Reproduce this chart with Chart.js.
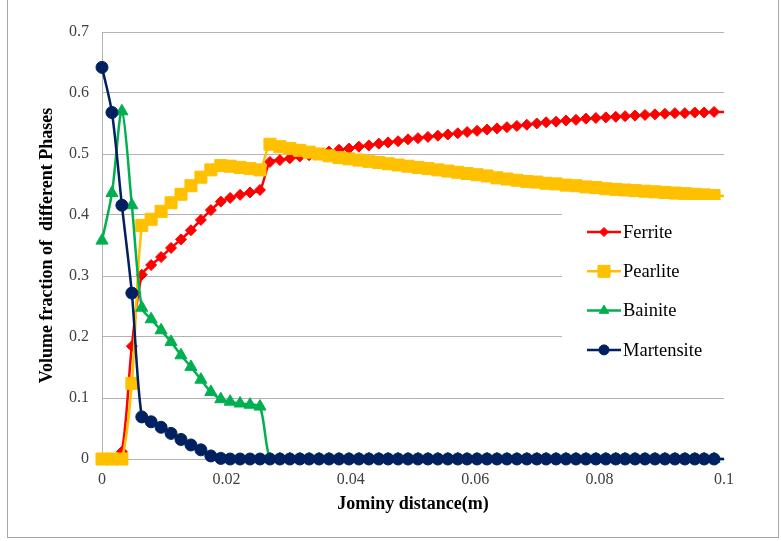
<!DOCTYPE html>
<html>
<head>
<meta charset="utf-8">
<script src="https://cdn.jsdelivr.net/npm/chart.js@4/dist/chart.umd.min.js"></script>
<style>
  body { margin: 0; background: #fff; }
  #wrap { position: relative; width: 781px; height: 541px; }
  #frame { position: absolute; left: 7px; top: -2px; width: 772px; height: 540px; border: 1px solid #a6a6a6; box-sizing: border-box; pointer-events: none; }
</style>
</head>
<body>
<div id="wrap">
  <canvas id="chart" width="781" height="541"></canvas>
  <div id="frame"></div>
</div>
<script>
// Jominy distance (m), 1/16 inch steps
const distance = [0, 0.0016, 0.0032, 0.0048, 0.0064, 0.0079, 0.0095, 0.0111, 0.0127, 0.0143,
  0.0159, 0.0175, 0.0191, 0.0206, 0.0222, 0.0238, 0.0254, 0.0270, 0.0286, 0.0302,
  0.0318, 0.0333, 0.0349, 0.0365, 0.0381, 0.0397, 0.0413, 0.0429, 0.0445, 0.0460,
  0.0476, 0.0492, 0.0508, 0.0524, 0.0540, 0.0556, 0.0572, 0.0587, 0.0603, 0.0619,
  0.0635, 0.0651, 0.0667, 0.0683, 0.0699, 0.0714, 0.0730, 0.0746, 0.0762, 0.0778,
  0.0794, 0.0810, 0.0826, 0.0841, 0.0857, 0.0873, 0.0889, 0.0905, 0.0921, 0.0937,
  0.0953, 0.0968, 0.0984, 0.1000];

const ferrite = [0, 0, 0.012, 0.185, 0.302, 0.318, 0.331, 0.346, 0.360, 0.375,
  0.392, 0.408, 0.422, 0.428, 0.433, 0.437, 0.441, 0.487, 0.490, 0.493,
  0.496, 0.498, 0.501, 0.504, 0.507, 0.509, 0.512, 0.514, 0.517, 0.519,
  0.521, 0.524, 0.526, 0.528, 0.530, 0.532, 0.534, 0.536, 0.538, 0.540,
  0.542, 0.544, 0.546, 0.548, 0.550, 0.552, 0.553, 0.555, 0.556, 0.558,
  0.559, 0.560, 0.561, 0.562, 0.563, 0.564, 0.565, 0.566, 0.567, 0.567,
  0.568, 0.568, 0.569, 0.569];

const pearlite = [0, 0, 0, 0.124, 0.383, 0.393, 0.406, 0.420, 0.434, 0.448,
  0.462, 0.474, 0.481, 0.480, 0.478, 0.476, 0.474, 0.516, 0.512, 0.509,
  0.506, 0.503, 0.500, 0.497, 0.494, 0.492, 0.490, 0.488, 0.486, 0.484,
  0.482, 0.480, 0.478, 0.476, 0.474, 0.472, 0.470, 0.468, 0.466, 0.464,
  0.461, 0.459, 0.457, 0.455, 0.454, 0.452, 0.451, 0.449, 0.448, 0.446,
  0.445, 0.443, 0.442, 0.441, 0.440, 0.439, 0.438, 0.437, 0.436, 0.435,
  0.434, 0.433, 0.432, 0.431];

const bainite = [0.358, 0.436, 0.570, 0.416, 0.248, 0.229, 0.211, 0.192, 0.170, 0.151,
  0.130, 0.110, 0.098, 0.094, 0.091, 0.089, 0.086, 0, 0, 0,
  0, 0, 0, 0, 0, 0, 0, 0, 0, 0,
  0, 0, 0, 0, 0, 0, 0, 0, 0, 0,
  0, 0, 0, 0, 0, 0, 0, 0, 0, 0,
  0, 0, 0, 0, 0, 0, 0, 0, 0, 0,
  0, 0, 0, 0];

const martensite = [0.642, 0.568, 0.416, 0.272, 0.069, 0.061, 0.052, 0.042, 0.032, 0.023,
  0.015, 0.005, 0.001, 0, 0, 0, 0, 0, 0, 0,
  0, 0, 0, 0, 0, 0, 0, 0, 0, 0,
  0, 0, 0, 0, 0, 0, 0, 0, 0, 0,
  0, 0, 0, 0, 0, 0, 0, 0, 0, 0,
  0, 0, 0, 0, 0, 0, 0, 0, 0, 0,
  0, 0, 0, 0];

const xTicks = [0, 0.02, 0.04, 0.06, 0.08, 0.1];
const yTicks = [0, 0.1, 0.2, 0.3, 0.4, 0.5, 0.6, 0.7];

const serif = '"Liberation Serif", "Times New Roman", serif';
Chart.defaults.font.family = serif;

const lastIndex = distance.length - 1;
const toPoints = values => distance.map((x, i) => ({ x: x, y: values[i] }));
const fmt = v => parseFloat(Number(v).toFixed(2)).toString();

function series(label, values, color, style, radius, legendRadius, order) {
  return {
    label: label,
    data: toPoints(values),
    borderColor: color,
    backgroundColor: color,
    pointStyle: style,
    // the last point sits on the axis edge, Excel did not draw its marker
    pointRadius: c => c.dataIndex === lastIndex ? 0 : radius,
    pointBorderWidth: 1,
    borderWidth: 2.5,
    tension: 0.3,
    clip: false,
    order: order,
    legendRadius: legendRadius
  };
}

function marker(c, style, x, y, r) {
  c.beginPath();
  if (style === 'circle') {
    c.arc(x, y, r, 0, Math.PI * 2);
  } else if (style === 'rect') {
    c.rect(x - r, y - r, 2 * r, 2 * r);
  } else if (style === 'rectRot') {
    c.moveTo(x - r, y); c.lineTo(x, y - r); c.lineTo(x + r, y); c.lineTo(x, y + r);
  } else if (style === 'triangle') {
    c.moveTo(x, y - r); c.lineTo(x + r * 0.87, y + r * 0.5); c.lineTo(x - r * 0.87, y + r * 0.5);
  }
  c.closePath();
  c.fill();
  c.stroke();
}

// legend sits inside the plot area on a white box, like the original
const insideLegend = {
  id: 'insideLegend',
  afterDatasetsDraw(chart) {
    const c = chart.ctx;
    const area = chart.chartArea;
    c.save();
    c.fillStyle = '#fff';
    c.fillRect(562, 200, area.right - 562 + 2, 176);
    chart.data.datasets.forEach((ds, i) => {
      const y = 232 + i * 39.3;
      c.strokeStyle = ds.borderColor;
      c.fillStyle = ds.borderColor;
      c.lineWidth = 2.5;
      c.beginPath();
      c.moveTo(587, y);
      c.lineTo(621, y);
      c.stroke();
      c.lineWidth = 1;
      marker(c, ds.pointStyle, 604, y, ds.legendRadius);
      c.fillStyle = '#000';
      c.font = '18.5px ' + serif;
      c.textBaseline = 'middle';
      c.textAlign = 'left';
      c.fillText(ds.label, 623, y + 1);
    });
    c.restore();
  }
};

const chart = document.querySelector('#chart').getContext('2d');

new Chart(chart, {
  type: 'line',
  data: {
    datasets: [
      series('Ferrite', ferrite, '#FF0000', 'rectRot', 5.5, 4.5, 3),
      series('Pearlite', pearlite, '#FFC000', 'rect', 8.5, 6, 2),
      series('Bainite', bainite, '#00B050', 'triangle', 7, 5.5, 1),
      series('Martensite', martensite, '#002060', 'circle', 6, 5, 0)
    ]
  },
  options: {
    responsive: false,
    animation: false,
    layout: { padding: { left: 10, right: 57, top: 32, bottom: 20 } },
    plugins: {
      legend: { display: false },
      tooltip: { enabled: false }
    },
    scales: {
      x: {
        type: 'linear',
        min: 0,
        max: 0.1,
        afterBuildTicks: s => { s.ticks = xTicks.map(v => ({ value: v })); },
        afterFit: s => { s.height = 62; },
        ticks: { color: '#404040', font: { size: 16 }, padding: 3, callback: fmt },
        grid: { display: false },
        border: { display: true, color: '#b3b3b3', width: 1 },
        title: { display: true, text: 'Jominy distance(m)', color: '#000', font: { size: 18, weight: 'bold' }, padding: { top: 2, bottom: 6 } }
      },
      y: {
        type: 'linear',
        min: 0,
        max: 0.7,
        afterBuildTicks: s => { s.ticks = yTicks.map(v => ({ value: v })); },
        afterFit: s => { s.width = 92; },
        ticks: { color: '#404040', font: { size: 16 }, padding: 13, callback: fmt },
        grid: { color: '#b3b3b3', drawTicks: false },
        border: { display: true, color: '#b3b3b3', width: 1 },
        title: { display: true, text: 'Volume fraction of  different Phases', color: '#000', font: { size: 18, weight: 'bold' }, padding: { top: 27, bottom: 0 } }
      }
    }
  },
  plugins: [insideLegend]
});
</script>
</body>
</html>
